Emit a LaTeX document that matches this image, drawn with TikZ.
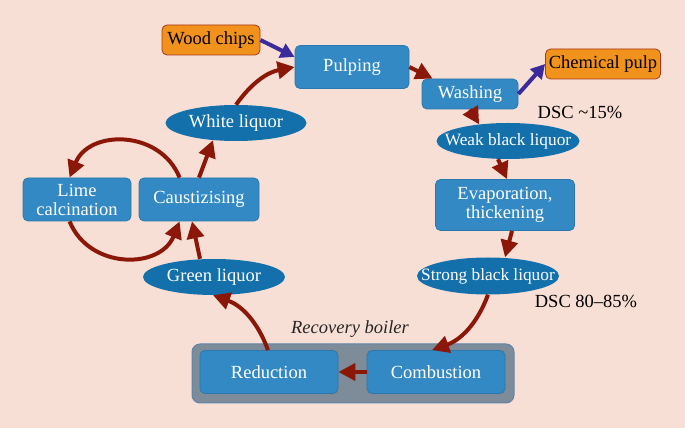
\documentclass[tikz,border=0pt]{standalone}
\usepackage{fontspec}
\setmainfont{Liberation Serif}
\usetikzlibrary{arrows.meta,calc,shapes.geometric}
\definecolor{bg}{HTML}{F8DFD5}
\definecolor{boxblue}{HTML}{3389C3}
\definecolor{boxline}{HTML}{2A78AE}
\definecolor{ellblue}{HTML}{1370AA}
\definecolor{orangefill}{HTML}{F0921C}
\definecolor{orangeline}{HTML}{A8381E}
\definecolor{arrred}{HTML}{8B1708}
\definecolor{arrpurple}{HTML}{3A2A9C}
\definecolor{contgray}{HTML}{7E8B98}
\definecolor{contline}{HTML}{5C86B0}
\begin{document}
\begin{tikzpicture}[x=1pt,y=1pt,
  txt/.style={font=\fontsize{18.5}{19}\selectfont},
  bbox/.style={txt, draw=boxline, line width=0.8pt, fill=boxblue, rounded corners=5pt, text=white, align=center, inner sep=0pt},
  obox/.style={txt, draw=orangeline, line width=0.8pt, fill=orangefill, rounded corners=5pt, text=black, inner sep=0pt},
  ell/.style={txt, ellipse, fill=ellblue, text=white, inner xsep=-30pt, inner ysep=0pt, minimum height=36pt},
  rarr/.style={draw=arrred, line width=4pt, -{Triangle[length=17pt,width=17pt]}},
  parr/.style={draw=arrpurple, line width=4pt, -{Triangle[length=14pt,width=15pt]}},
]
\fill[bg] (0,0) rectangle (685,428);
\useasboundingbox (0,0) rectangle (685,428);

% recovery boiler container
\node[draw=contline, fill=contgray, rounded corners=8pt, minimum width=322pt, minimum height=59pt, inner sep=0pt, line width=1pt] (boiler) at (353,54.5) {};
\node[font=\fontsize{18.5}{19}\selectfont\itshape, text=black!85] (rb) at (350,99) {Recovery boiler};

% nodes
\node[obox, minimum width=98pt, minimum height=30pt] (wood) at (211,388) {Wood chips};
\node[bbox, minimum width=114pt, minimum height=43pt] (pulp) at (352,361) {Pulping};
\node[bbox, minimum width=96pt, minimum height=30pt] (wash) at (470,334) {Washing};
\node[obox, minimum width=115pt, minimum height=30pt] (chem) at (603,364) {Chemical pulp};
\node[txt] (dsc1) at (580,316) {DSC \textasciitilde15\%};
\node[ell, font=\fontsize{17.3}{19}\selectfont, minimum width=143pt] (weak) at (508,287) {Weak black liquor};
\node[bbox, minimum width=139pt, minimum height=51pt] (evap) at (505,223) {Evaporation,\\thickening};
\node[ell, font=\fontsize{17.3}{19}\selectfont, minimum width=142pt, minimum height=37pt] (strong) at (488,152) {Strong black liquor};
\node[txt] (dsc2) at (586,127) {DSC 80--85\%};
\node[bbox, minimum width=138pt, minimum height=43pt] (red) at (269,56) {Reduction};
\node[bbox, minimum width=138pt, minimum height=43pt] (comb) at (436,56) {Combustion};
\node[ell, minimum width=142pt] (green) at (214,151) {Green liquor};
\node[bbox, minimum width=120pt, minimum height=43pt] (caust) at (199,228.5) {Caustizising};
\node[bbox, minimum width=108pt, minimum height=43pt] (lime) at (77,228.5) {Lime\\calcination};
\node[ell, minimum width=141pt] (white) at (236,305) {White liquor};

% connectors
\draw[parr] (wood.east) -- (pulp.170);
\draw[rarr] (white.north) to[bend left=22] (pulp.west);
\draw[rarr] (pulp.east) -- ($(wash.north west)+(11,0)$);
\draw[parr] (wash.east) -- (chem.west);
\draw[rarr] (wash.south) -- (weak.150);
\draw[rarr] ($(weak.south)+(-10,0)$) -- ($(evap.north)+(2,0)$);
\draw[rarr] ($(evap.south)+(7,0)$) -- ($(strong.north)+(17,0)$);
\draw[rarr] (strong.south) to[bend left=25] ($(comb.north)+(-4,0)$);
\draw[rarr] (comb.west) -- (red.east);
\draw[rarr] ($(red.north)+(-1,0)$) to[bend right=25] ($(green.south)+(-1,0)$);
\draw[rarr] ($(green.north)+(-14,0)$) -- ($(caust.south)+(-7,0)$);
\draw[rarr] (caust.north) -- ($(white.south)+(-23,1)$);
\draw[rarr] ($(caust.north west)+(41,0)$) .. controls +(112:52) and +(68:52) .. ($(lime.north west)+(47,0)$);
\draw[rarr] ($(lime.south west)+(47,0)$) .. controls +(292:52) and +(248:52) .. ($(caust.south west)+(41,0)$);
\end{tikzpicture}
\end{document}
